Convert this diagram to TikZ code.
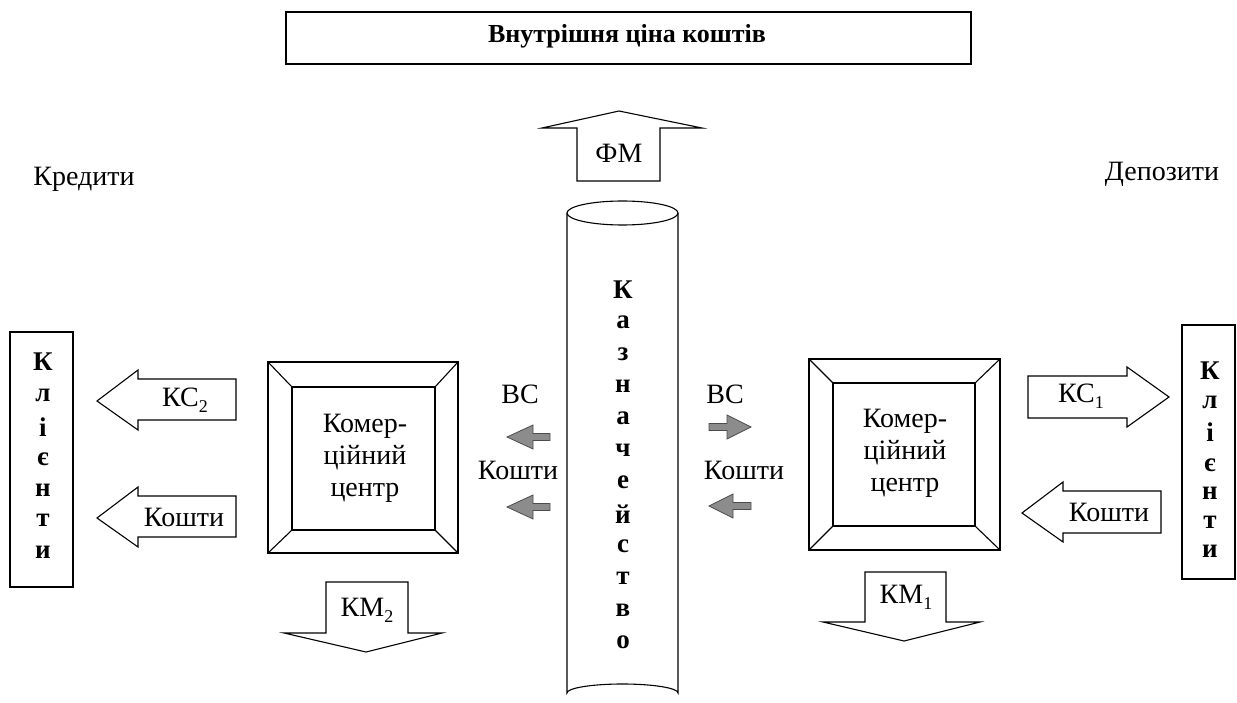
\documentclass[tikz,border=0pt]{standalone}
\usepackage{fontspec}
\setmainfont{Liberation Serif}
\newcommand\lowsub[1]{\raisebox{-0.45ex}{\fontsize{18}{18}\selectfont #1}}
\tikzset{
  lbl/.style={font=\fontsize{28}{32}\selectfont, inner sep=0pt},
  bl/.style={font=\bfseries\fontsize{27}{30}\selectfont, inner sep=0pt},
  blk/.style={draw, line width=1.1pt, line join=miter, fill=white},
  small/.style={draw=black!70, fill=black!45, line width=0.8pt, line join=miter},
}
\begin{document}
\begin{tikzpicture}[x=1pt,y=-1pt]
\useasboundingbox (0,0) rectangle (1237,703);

% top box
\draw[blk] (286,12) rectangle (971,64);
\node[font=\bfseries\fontsize{26}{28}\selectfont, inner sep=0pt] (price) at (627,36) {Внутрішня ціна коштів};

% FM arrow
\draw[blk] (619,111) -- (702,128) -- (660,128) -- (660,181) -- (577,181) -- (577,128) -- (542,128) -- cycle;
\node[lbl] (fm) at (619,153) {ФМ};

% side labels
\node[lbl] (kred) at (84,179) {Кредити};
\node[lbl] (depo) at (1162,174) {Депозити};

% cylinder
\draw[blk] (567,213) -- (567,693) arc[start angle=180,end angle=360,x radius=55.5,y radius=9] -- (678,213);
\draw[blk] (622.5,213) ellipse[x radius=55.5,y radius=12];
\foreach \l [count=\i from 0] in {К,а,з,н,а,ч,е,й,с,т,в,о}
  \node[bl] (kaz\i) at (623,{290+32*\i}) {\l};

% left clients box
\draw[blk] (10,332) rectangle (73,587);
\foreach \l/\y [count=\i] in {К/362,л/395,і/427,є/459,н/490,т/520,и/552}
  \node[bl] (kl\i) at (43,\y) {\l};

% right clients box
\draw[blk] (1182,325) rectangle (1235,579);
\foreach \l/\y [count=\i] in {К/371,л/402,і/432,є/465,н/493,т/522,и/551}
  \node[bl] (kr\i) at (1210,\y) {\l};

% left commercial centre
\draw[blk] (268,362) rectangle (458,553);
\draw[blk] (292,387) rectangle (435,530);
\draw[line width=1.1pt] (268,362) -- (292,387) (458,362) -- (435,387) (268,553) -- (292,530) (458,553) -- (435,530);
\node[lbl, align=center] (cc2) at (365,458) {Комер-\\ційний\\центр};

% right commercial centre
\draw[blk] (809,359) rectangle (1000,550);
\draw[blk] (833,383) rectangle (975,526);
\draw[line width=1.1pt] (809,359) -- (833,383) (1000,359) -- (975,383) (809,550) -- (833,526) (1000,550) -- (975,526);
\node[lbl, align=center] (cc1) at (905,453) {Комер-\\ційний\\центр};

% KC2 arrow (left)
\draw[blk] (97,401) -- (138,370) -- (138,379) -- (236,379) -- (236,420) -- (138,420) -- (138,430) -- cycle;
\node[lbl] (kc2) at (185,400) {КС\lowsub{2}};
% Koshty left arrow
\draw[blk] (97,518) -- (138,487) -- (138,496) -- (236,496) -- (236,537) -- (138,537) -- (138,547) -- cycle;
\node[lbl] (ksl) at (184,517) {Кошти};

% KC1 arrow (right)
\draw[blk] (1169,397) -- (1127,427) -- (1127,418) -- (1028,418) -- (1028,376) -- (1127,376) -- (1127,367) -- cycle;
\node[lbl] (kc1) at (1081,396) {КС\lowsub{1}};
% Koshty right arrow
\draw[blk] (1022,513) -- (1063,482) -- (1063,491) -- (1161,491) -- (1161,533) -- (1063,533) -- (1063,542) -- cycle;
\node[lbl] (ksr) at (1109,512) {Кошти};

% KM2 arrow
\draw[blk] (366,652) -- (442,633) -- (408,633) -- (408,582) -- (326,582) -- (326,633) -- (284,633) -- cycle;
\node[lbl] (km2) at (367,610) {КМ\lowsub{2}};
% KM1 arrow
\draw[blk] (904,641) -- (980,622) -- (946,622) -- (946,572) -- (865,572) -- (865,622) -- (823,622) -- cycle;
\node[lbl] (km1) at (906,597) {КМ\lowsub{1}};

% small grey arrows
\draw[small] (507,437) -- (533,425) -- (533,433.5) -- (550,433.5) -- (550,440.5) -- (533,440.5) -- (533,449) -- cycle;
\draw[small] (507,507) -- (533,495) -- (533,503.5) -- (550,503.5) -- (550,510.5) -- (533,510.5) -- (533,519) -- cycle;
\draw[small] (751,427) -- (727,415) -- (727,423.5) -- (709,423.5) -- (709,430.5) -- (727,430.5) -- (727,439) -- cycle;
\draw[small] (709,506) -- (733,494) -- (733,502.5) -- (751,502.5) -- (751,509.5) -- (733,509.5) -- (733,518) -- cycle;
\node[lbl] (vcl) at (520,394) {ВС};
\node[lbl] (ksml) at (518,470) {Кошти};
\node[lbl] (vcr) at (725,394) {ВС};
\node[lbl] (ksmr) at (744,470) {Кошти};
\end{tikzpicture}
\end{document}
